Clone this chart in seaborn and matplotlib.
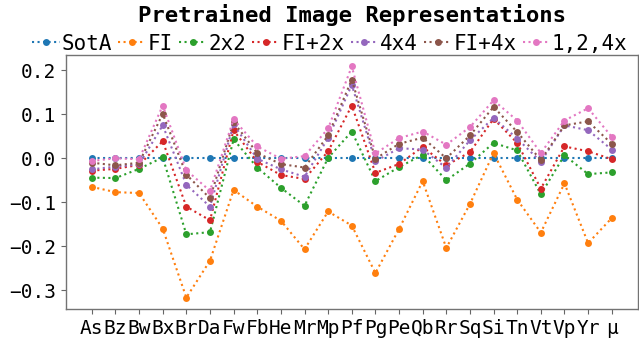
import matplotlib
matplotlib.use('Agg')
import matplotlib.pyplot as plt
import seaborn as sns

# categories along x
cats = ['As', 'Bz', 'Bw', 'Bx', 'Br', 'Da', 'Fw', 'Fb', 'He', 'Mr', 'Mp', 'Pf',
        'Pg', 'Pe', 'Qb', 'Rr', 'Sq', 'Si', 'Tn', 'Vt', 'Vp', 'Yr', 'μ']

# values
sota = [0.0, 0.0, 0.0, 0.0, 0.0, 0.0, 0.0, 0.0, 0.0, 0.0, 0.0, 0.0,
        0.0, 0.0, 0.0, 0.0, 0.0, 0.0, 0.0, 0.0, 0.0, 0.0, 0.0]
fi = [-0.065, -0.077, -0.079, -0.160, -0.317, -0.233, -0.072, -0.110, -0.142, -0.207, -0.121, -0.153,
      -0.261, -0.161, -0.052, -0.204, -0.104, 0.012, -0.094, -0.169, -0.057, -0.193, -0.136]
g2x2 = [-0.044, -0.045, -0.024, 0.002, -0.173, -0.168, 0.043, -0.021, -0.067, -0.108, 0.001, 0.061,
        -0.052, -0.020, 0.008, -0.050, -0.012, 0.035, 0.018, -0.082, 0.007, -0.036, -0.032]
fi_2x = [-0.028, -0.024, -0.015, 0.039, -0.110, -0.141, 0.064, -0.008, -0.038, -0.047, 0.016, 0.120,
         -0.033, -0.013, 0.026, -0.016, 0.014, 0.090, 0.035, -0.069, 0.027, 0.016, -0.002]
g4x4 = [-0.025, -0.019, -0.014, 0.075, -0.060, -0.110, 0.077, -0.001, -0.025, -0.042, 0.046, 0.167,
        -0.007, 0.023, 0.020, -0.022, 0.041, 0.092, 0.045, -0.008, 0.075, 0.064, 0.020]
fi_4x = [-0.010, -0.016, -0.010, 0.101, -0.037, -0.091, 0.082, 0.012, -0.013, -0.021, 0.052, 0.179,
         -0.001, 0.033, 0.047, 0.000, 0.052, 0.117, 0.060, -0.004, 0.075, 0.084, 0.033]
multi = [-0.006, 0.000, -0.002, 0.120, -0.027, -0.074, 0.089, 0.027, -0.001, 0.005, 0.068, 0.209,
         0.011, 0.046, 0.061, 0.031, 0.071, 0.132, 0.086, 0.012, 0.086, 0.114, 0.049]

names = ['SotA', 'FI', '2x2', 'FI+2x', '4x4', 'FI+4x', '1,2,4x']
series = [sota, fi, g2x2, fi_2x, g4x4, fi_4x, multi]

sns.set_style('white')
plt.rcParams['font.family'] = ['DejaVu Sans Mono']
plt.rcParams['text.color'] = 'black'
plt.rcParams['xtick.color'] = 'black'
plt.rcParams['ytick.color'] = 'black'
plt.rcParams['axes.labelcolor'] = 'black'

fig, ax = plt.subplots(figsize=(6.39, 3.39), dpi=100)
fig.subplots_adjust(left=0.103, right=0.998, top=0.838, bottom=0.088)

colors = sns.color_palette('tab10', len(names))
for name, vals, c in zip(names, series, colors):
    sns.lineplot(x=cats, y=vals, ax=ax, label=name, color=c, marker='o',
                 linestyle=':', linewidth=1.5, markersize=5, markeredgewidth=0)

ax.set_yticks([0.2, 0.1, 0.0, -0.1, -0.2, -0.3])
ax.tick_params(axis='both', labelsize=14, length=3.5, color='0.4', labelcolor='black',
               left=True, bottom=True)
for s in ax.spines.values():
    s.set_color('0.45')
    s.set_linewidth(1.0)

ax.set_title('Pretrained Image Representations', fontsize=16, fontweight='bold',
             pad=24, color='black')
ax.legend(ncol=7, loc='lower center', bbox_to_anchor=(0.462, 1.005), frameon=False,
          fontsize=15, handlelength=1.3, handletextpad=0.1, columnspacing=0.3,
          borderaxespad=0, borderpad=0)

fig.savefig('out.png', dpi=100)
